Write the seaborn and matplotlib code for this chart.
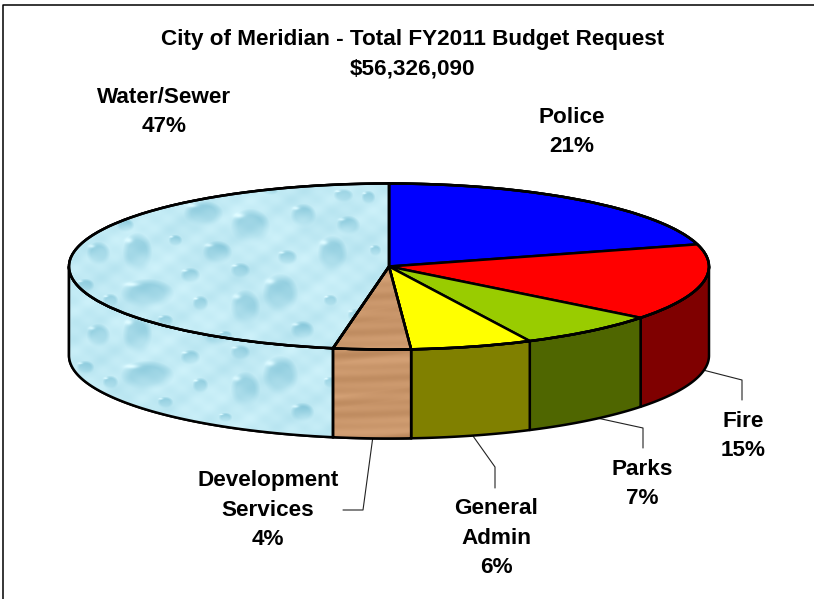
import numpy as np
import matplotlib
matplotlib.use("Agg")
import matplotlib.pyplot as plt
from matplotlib.patches import Polygon
import seaborn as sns

# budget shares, percent (labels show them rounded)
categories = ["Police", "Fire", "Parks", "General Admin", "Development Services", "Water/Sewer"]
shares = [20.7, 14.9, 7.15, 6.15, 3.9, 47.2]
label_texts = ["Police\n21%", "Fire\n15%", "Parks\n7%", "General\nAdmin\n6%",
               "Development\nServices\n4%", "Water/Sewer\n47%"]
label_pos = [(572, 132), (743, 436), (642, 484), (496, 538), (268, 510), (164, 112)]
top_colors = ["#0000FF", "#FF0000", "#99CC00", "#FFFF00", "#C8966A", "#BEE7F0"]
side_colors = ["#00007F", "#7F0000", "#4F6600", "#808000", "#C8966A", "#BEE7F0"]

# leader lines in picture pixels
leaders = [
    [(703, 370), (742, 380), (742, 400)],
    [(597, 418), (643, 428), (643, 448)],
    [(473, 436), (495, 467), (495, 488)],
    [(373, 436), (363, 510), (343, 510)],
]

# droplets of the water texture: x, y, half width, half height
drops = [
    (250, 226, 20, 18), (137, 252, 15, 20), (217, 252, 15, 12), (332, 253, 15, 18),
    (303, 215, 13, 12), (348, 225, 12, 10), (147, 293, 27, 15), (280, 293, 18, 20),
    (245, 307, 15, 18), (190, 275, 10, 8), (287, 257, 10, 8), (240, 270, 10, 8),
    (200, 303, 8, 8), (302, 330, 12, 10), (98, 253, 12, 12), (203, 213, 20, 13),
    (343, 195, 10, 7), (368, 197, 7, 7), (110, 300, 8, 7), (165, 320, 8, 6),
    (330, 300, 7, 6), (355, 315, 8, 7), (175, 240, 7, 6), (270, 190, 8, 5),
    (125, 225, 9, 7), (85, 285, 9, 7), (225, 335, 7, 5), (375, 250, 6, 6),
]

W, H = 814, 599
CX, CY, RX, RY, DEPTH = 389, 266.5, 320, 83, 89


def px(x, y):
    return (x - CX) / RX, (CY - y) / RY


def water_texture():
    yy, xx = np.mgrid[0:H, 0:W].astype(float)
    shade = (0.018 * np.sin(xx / 4.3) * np.sin(yy / 3.1) + 0.018 * np.sin(xx / 11.0 + yy / 7.0)
             + 0.012 * np.sin((xx - yy) / 23.0))
    for dx, dy, rx, ry in drops:
        u, v = (xx - dx) / rx, (yy - dy) / ry
        r2 = u ** 2 + v ** 2
        # soft body that fades out towards the bottom of the drop
        shade -= 0.17 * np.clip((1.0 - r2) * 1.6, 0, 1) * np.clip(0.7 - 0.6 * v, 0, 1)
        shade += 0.18 * np.exp(-(((u + 0.55) / 0.26) ** 2 + ((v + 0.6) / 0.14) ** 2))
    base = np.array([0.76, 0.92, 0.96])
    tint = np.array([1.0, 0.6, 0.45])
    return np.clip(base[None, None, :] + shade[:, :, None] * tint, 0, 1)


def wood_texture():
    yy, xx = np.mgrid[0:H, 0:W].astype(float)
    grain = (0.018 * np.sin(yy / 1.9 + 0.6 * np.sin(xx / 31.0)) + 0.02 * np.sin(yy / 5.3 + xx / 70.0)
             - 0.04 * np.clip(np.sin(yy / 7.1 + xx / 50.0) - 0.7, 0, 1) * 3)
    base = np.array([0.79, 0.59, 0.42])
    return np.clip(base[None, None, :] + grain[:, :, None], 0, 1)


def side_polygon(a0, a1):
    # a0, a1 clockwise from the top, degrees; only the front half is visible
    a0, a1 = max(a0, 90), min(a1, 270)
    th = np.radians(np.linspace(a0, a1, 120))
    x, y = np.sin(th), np.cos(th)
    d = DEPTH / RY
    return np.r_[np.c_[x, y], np.c_[x[::-1], y[::-1] - d]]


sns.set_theme(style="white")
plt.rcParams["font.family"] = ["Liberation Sans", "DejaVu Sans"]

fig = plt.figure(figsize=(W / 100, H / 100), dpi=100)
ax = fig.add_axes([0, 0, 1, 1])

edges = np.cumsum([0] + shares) / sum(shares) * 360
extent_top = [px(0, 0)[0], px(W, 0)[0], px(0, H)[1], px(0, 0)[1]]
extent_side = [extent_top[0], extent_top[1], extent_top[2] - 82 / RY, extent_top[3] - 82 / RY]
textures = {4: wood_texture(), 5: water_texture()}
LW = 1.8

# side walls
for i in range(len(shares)):
    if edges[i + 1] <= 90 or edges[i] >= 270:
        continue
    poly = Polygon(side_polygon(edges[i], edges[i + 1]), closed=True, facecolor=side_colors[i],
                   edgecolor="black", linewidth=LW, zorder=1, joinstyle="round")
    ax.add_patch(poly)
    if i in textures:
        im = ax.imshow(textures[i], extent=extent_side, aspect="auto", zorder=1.1, origin="upper")
        im.set_clip_path(poly)
        outline = Polygon(poly.get_xy(), closed=True, fill=False, edgecolor="black", linewidth=LW, zorder=1.2)
        ax.add_patch(outline)

# top of the pie
wedges, _ = ax.pie(shares, colors=top_colors, startangle=90, counterclock=False, radius=1,
                   wedgeprops={"edgecolor": "black", "linewidth": LW, "zorder": 2})
for i, tex in textures.items():
    im = ax.imshow(tex, extent=extent_top, aspect="auto", zorder=2.1, origin="upper")
    im.set_clip_path(wedges[i])
    ax.pie([shares[i], sum(shares) - shares[i]], colors=["none", "none"], startangle=90 - edges[i],
           counterclock=False, radius=1,
           wedgeprops={"edgecolor": "black", "linewidth": LW, "zorder": 2.2})

ax.set_aspect("auto")
ax.set_xlim(extent_top[0], extent_top[1])
ax.set_ylim(extent_top[2], extent_top[3])
ax.axis("off")

for pts in leaders:
    xs, ys = zip(*[px(*p) for p in pts])
    ax.plot(xs, ys, color="#222222", lw=0.8, zorder=0.5)

# chart frame, only top and left show
ax.plot(*zip(px(3, 599), px(3, 5), px(814, 5)), color="black", lw=1.1, zorder=0.5, clip_on=False)

ax.text(*px(413, 54), "City of Meridian - Total FY2011 Budget Request\n\\$56,326,090",
        ha="center", va="center", fontsize=16.2, fontweight="bold", color="black", linespacing=1.52)
for txt, pos in zip(label_texts, label_pos):
    ax.text(*px(*pos), txt, ha="center", va="center", fontsize=16.2, fontweight="bold",
            color="black", linespacing=1.52)

fig.savefig("out.png", dpi=100)
plt.close(fig)
